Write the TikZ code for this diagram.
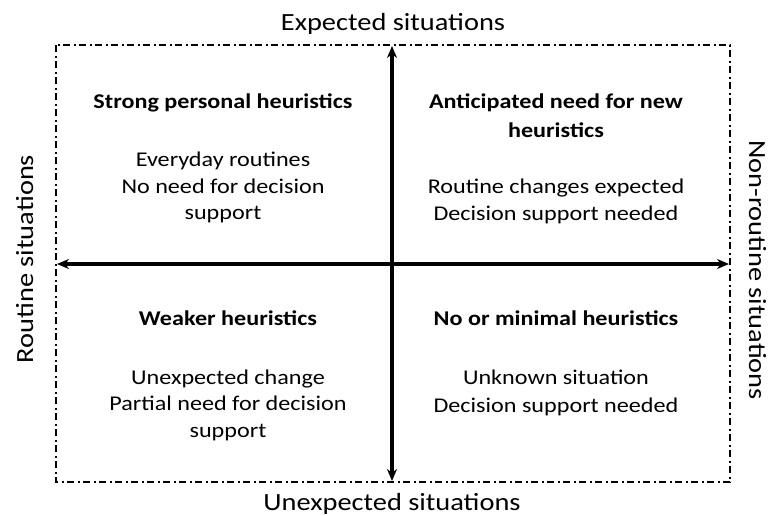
\documentclass[tikz,border=0pt]{standalone}
\usepackage{fontspec}
\setmainfont{Carlito}[FakeStretch=1.15]
\usetikzlibrary{arrows.meta}
\begin{document}
\begin{tikzpicture}[x=1pt,y=-1pt,
  axislabel/.style={font=\fontsize{24.7}{28}\selectfont, inner sep=0pt, anchor=base},
  qtitle/.style={font=\fontsize{21}{24}\selectfont\bfseries, inner sep=0pt, anchor=base},
  qtext/.style={font=\fontsize{21}{24}\selectfont, inner sep=0pt, anchor=base},
  frame/.style={line width=1.8pt, dash pattern=on 7pt off 3.5pt on 2pt off 3.5pt},
  axis/.style={line width=3.2pt, -{Stealth[length=12pt,width=10pt]}}]
\useasboundingbox (0,0) rectangle (772,515);
% frame corners
\coordinate (tl) at (56,45);
\coordinate (br) at (730,482);
\draw[frame] (tl) rectangle (br);
% axis endpoints
\coordinate (c) at (392,264);
\coordinate (top) at (392,46);
\coordinate (bot) at (392,481);
\coordinate (lft) at (57,264);
\coordinate (rgt) at (729,264);
\draw[axis] (c) -- (top);
\draw[axis] (c) -- (bot);
\draw[axis] (c) -- (lft);
\draw[axis] (c) -- (rgt);
% axis labels
\node[axislabel] (exp) at (393,30) {Expected situations};
\node[axislabel] (unexp) at (392,510) {Unexpected situations};
\node[axislabel, rotate=90] (rout) at (33,259) {Routine situations};
\node[axislabel, rotate=-90] (nrout) at (749,270) {Non-routine situations};
% top-left
\node[qtitle] (q1t) at (223,108) {Strong personal heuristics};
\node[qtext] (q1a) at (223,166) {Everyday routines};
\node[qtext] (q1b) at (223,193) {No need for decision};
\node[qtext] (q1c) at (223,219) {support};
% top-right
\node[qtitle] (q2t) at (556,108) {Anticipated need for new};
\node[qtitle] (q2u) at (556,137) {heuristics};
\node[qtext] (q2a) at (556,193) {Routine changes expected};
\node[qtext] (q2b) at (556,220) {Decision support needed};
% bottom-left
\node[qtitle] (q3t) at (228,325) {Weaker heuristics};
\node[qtext] (q3a) at (228,384) {Unexpected change};
\node[qtext] (q3b) at (228,410) {Partial need for decision};
\node[qtext] (q3c) at (228,437) {support};
% bottom-right
\node[qtitle] (q4t) at (556,325) {No or minimal heuristics};
\node[qtext] (q4a) at (556,384) {Unknown situation};
\node[qtext] (q4b) at (556,412) {Decision support needed};
\end{tikzpicture}
\end{document}
